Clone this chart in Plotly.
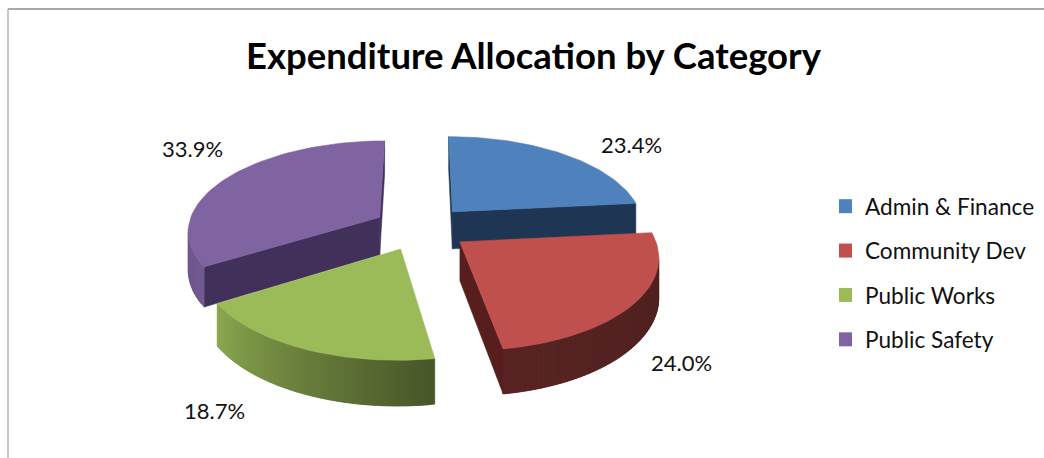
import numpy as np
import plotly.graph_objects as go

# ---- data
categories = ["Admin & Finance", "Community Dev", "Public Works", "Public Safety"]
shares = [23.4, 24.0, 18.7, 33.9]
labels = ["23.4%", "24.0%", "18.7%", "33.9%"]
title = "Expenditure Allocation by Category"

# ---- styles
top_colors = ["#4F81BD", "#C0504D", "#9BBB59", "#8064A2"]
cut_colors = ["#1F3554", "#561F1D", "#4B6028", "#41305A"]
label_pos = [(631, 144), (681, 362), (214, 410), (192, 148)]
draw_order = [0, 3, 1, 2]

# ---- camera of the 3-D pie
VX, VY = 421.0, -426.0   # vanishing point
PLANE = 654.0            # plane distance from vanishing point (px at unit depth)
DEPTH = 0.137            # perspective strength per radius
SCALE = 192.0            # px per radius at unit depth
THICK = 38.0             # pie thickness
EXPLODE = 0.25           # pull-out, in radii


def project(X, up, bottom=False):
    w = 1.0 + DEPTH * np.asarray(up)
    return VX + SCALE * np.asarray(X) / w, VY + (PLANE + (THICK if bottom else 0.0)) / w


def shade(hex_color, k):
    r, g, b = [int(hex_color[i:i + 2], 16) for i in (1, 3, 5)]
    return "rgb(%d,%d,%d)" % (min(255, r * k), min(255, g * k), min(255, b * k))


def poly(xs, ys, color):
    return go.Scatter(x=list(xs), y=list(ys), mode="lines", fill="toself", fillcolor=color,
                      line=dict(color=color, width=0.6), hoverinfo="skip", showlegend=False)


fig = go.Figure()
edges = np.cumsum([0.0] + shares) / sum(shares) * 2 * np.pi
wall_angle = np.radians([84, 171, 238, 300])
wall_light = [0.40, 0.46, 0.90, 0.80]

traces = {}
for i in range(len(shares)):
    a0, a1 = edges[i], edges[i + 1]
    mid = (a0 + a1) / 2
    ox, oy = EXPLODE * np.sin(mid), EXPLODE * np.cos(mid)
    t = np.linspace(a0, a1, 61)
    ax, ay = ox + np.sin(t), oy + np.cos(t)
    tx, ty = project(ax, ay)
    bx, by = project(ax, ay, bottom=True)
    cx, cy = project(ox, oy)
    cbx, cby = project(ox, oy, bottom=True)
    group = []
    # cut faces (only the ones turned to the viewer)
    mx, my = tx[30] - cx, ty[30] - cy
    for j in (0, -1):
        vx, vy = tx[j] - cx, ty[j] - cy
        if np.sign(vx) != np.sign(vx * my - vy * mx):
            group.append(poly([cx, tx[j], bx[j], cbx, cx], [cy, ty[j], by[j], cby, cy], cut_colors[i]))
    # outer wall: strips overlap the next one, so that no seam shows
    for k in range(len(t) - 1):
        if tx[k + 1] < tx[k]:
            n = min(k + 2, len(t) - 1)
            light = np.interp((t[k] + t[k + 1]) / 2, wall_angle, wall_light)
            seg = np.arange(k, n + 1)
            group.append(poly(np.r_[tx[seg], bx[seg][::-1], tx[k]],
                              np.r_[ty[seg], by[seg][::-1], ty[k]],
                              shade(top_colors[i], light)))
    # top face
    group.append(poly(np.r_[cx, tx, cx], np.r_[cy, ty, cy], top_colors[i]))
    traces[i] = group

for i in draw_order:
    fig.add_traces(traces[i])

# legend entries
for name, col in zip(categories, top_colors):
    fig.add_trace(go.Scatter(x=[None], y=[None], mode="markers", name=name, legendgroup=name,
                             marker=dict(symbol="square", size=14, color=col)))

for text, (x, y) in zip(labels, label_pos):
    fig.add_annotation(x=x, y=y, text=text, showarrow=False, xref="x", yref="y",
                       font=dict(family="Lato", size=22, color="#111111"))
fig.add_annotation(x=534, y=55, text="<b>%s</b>" % title, showarrow=False, xref="x", yref="y",
                   font=dict(family="Lato", size=36.5, color="#000000"))

fig.update_layout(
    width=1044, height=458, margin=dict(l=0, r=0, t=0, b=0),
    paper_bgcolor="white", plot_bgcolor="white",
    xaxis=dict(range=[0, 1044], visible=False, fixedrange=True),
    yaxis=dict(range=[458, 0], visible=False, fixedrange=True),
    font=dict(family="Lato", size=22.6, color="#111111"),
    legend=dict(x=839 / 1044, y=1 - 185 / 458, xanchor="left", yanchor="top",
                tracegroupgap=12, itemwidth=30, indentation=-14,
                bgcolor="rgba(0,0,0,0)", font=dict(family="Lato", size=22.6, color="#111111")),
    shapes=[
        dict(type="line", x0=8, x1=1044, y0=9, y1=9, xref="x", yref="y",
             line=dict(color="#8C8C8C", width=1.5)),
        dict(type="line", x0=8, x1=8, y0=9, y1=458, xref="x", yref="y",
             line=dict(color="#B5B5B5", width=1.5)),
    ],
)
fig.write_html("out.html", config={"displayModeBar": False},
               post_script="document.body.style.margin='0';document.body.style.overflow='hidden';")
